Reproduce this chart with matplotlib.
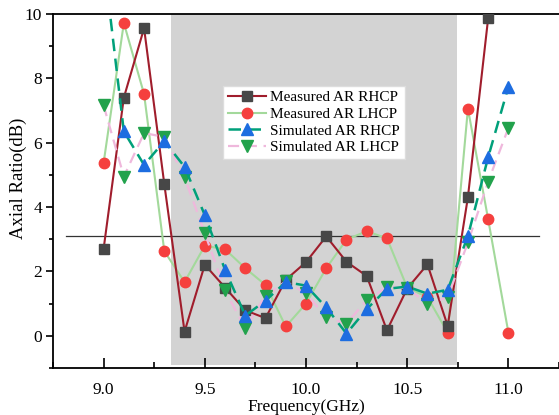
import matplotlib
matplotlib.use("Agg")
import matplotlib.pyplot as plt
from matplotlib.ticker import MultipleLocator

plt.rcParams["font.family"] = ["Liberation Serif", "DejaVu Serif"]
plt.rcParams["mathtext.fontset"] = "stix"

# Frequency sweep (GHz)
freq = [9.0, 9.1, 9.2, 9.3, 9.4, 9.5, 9.6, 9.7, 9.8, 9.9, 10.0,
        10.1, 10.2, 10.3, 10.4, 10.5, 10.6, 10.7, 10.8, 10.9, 11.0]

# Axial ratio (dB)
meas_rhcp = [2.7, 7.4, 9.56, 4.71, 0.13, 2.21, 1.5, 0.79, 0.55, 1.74, 2.29,
             3.09, 2.3, 1.86, 0.17, 1.47, 2.22, 0.31, 4.31, 9.87]
meas_lhcp = [5.37, 9.72, 7.51, 2.63, 1.67, 2.8, 2.69, 2.1, 1.58, 0.29, 1.0,
             2.1, 2.99, 3.25, 3.03, 1.5, 1.2, 0.1, 7.06, 3.62, 0.1]
sim_rhcp = [11.7, 6.35, 5.31, 6.05, 5.25, 3.75, 2.05, 0.63, 1.09, 1.67, 1.56,
            0.88, 0.07, 0.83, 1.46, 1.53, 1.31, 1.43, 3.1, 5.55, 7.74]
sim_lhcp = [7.16, 4.95, 6.3, 6.18, 4.92, 3.19, 1.41, 0.23, 1.25, 1.69, 1.32,
            0.57, 0.38, 1.11, 1.51, 1.49, 0.99, 1.2, 2.9, 4.79, 6.46]

labels = ["Measured AR RHCP", "Measured AR LHCP",
          "Simulated AR RHCP", "Simulated AR LHCP"]

band = (9.333, 10.745)   # shaded operating band
ar_limit = 3.1           # reference level
limit_span = (8.815, 11.15)

fig = plt.figure(figsize=(5.59, 4.15), dpi=100)
ax = fig.add_axes([53 / 559, 1 - 368 / 415, 506 / 559, 354 / 415])

ax.axvspan(band[0], band[1], ymin=0.008, ymax=1.0, color="#d3d3d3", lw=0, zorder=0)
ax.plot(limit_span, [ar_limit, ar_limit], color="#333333", lw=0.9, zorder=1)

h2, = ax.plot(freq[:len(meas_lhcp)], meas_lhcp, color="#a3d99b", lw=1.5,
              marker="o", ms=7.5, mfc="#f5403e", mec="#f5403e", zorder=2)
h1, = ax.plot(freq[:len(meas_rhcp)], meas_rhcp, color="#a01d2c", lw=1.5,
              marker="s", ms=6.5, mfc="#474747", mec="#474747", zorder=3)
h4, = ax.plot(freq, sim_lhcp, color="#efb8dc", lw=1.6, ls=(0, (5, 3)),
              marker="v", ms=8, mfc="#22a24c", mec="#22a24c", zorder=4)
h3, = ax.plot(freq, sim_rhcp, color="#00a07a", lw=1.8, ls=(0, (5, 3)),
              marker="^", ms=8, mfc="#1d6de0", mec="#1d6de0", zorder=5)

ax.set_xlim(8.75, 11.25)
ax.set_ylim(-1, 10)

ax.xaxis.set_major_locator(MultipleLocator(0.5))
ax.xaxis.set_minor_locator(MultipleLocator(0.25))
ax.yaxis.set_major_locator(MultipleLocator(2))
ax.yaxis.set_minor_locator(MultipleLocator(1))
ax.xaxis.set_major_formatter(plt.FuncFormatter(lambda v, p: f"{v:.1f}"))

ax.tick_params(axis="x", which="major", direction="in", length=7, width=1.2,
               labelsize=12.5, pad=10)
ax.tick_params(axis="x", which="minor", direction="in", length=4, width=1.2)
ax.tick_params(axis="y", which="major", direction="out", length=5, width=1.2,
               labelsize=12.5, pad=3)
ax.tick_params(axis="y", which="minor", direction="out", length=3, width=1.2)

for side in ("left", "bottom", "top"):
    ax.spines[side].set_linewidth(1.3)
ax.spines["right"].set_visible(False)

ax.set_xlabel("Frequency(GHz)", fontsize=12.5, labelpad=1)
ax.set_ylabel("Axial Ratio(dB)", fontsize=13.5)
ax.yaxis.set_label_coords(-0.068, 0.537)
ax.yaxis.label.set_va("center")

leg = ax.legend([h1, h2, h3, h4], labels, loc="upper left",
                bbox_to_anchor=(0.336, 0.797), fontsize=11, frameon=True,
                fancybox=False, edgecolor="#dddddd", framealpha=1,
                handlelength=2.5, handletextpad=0.3, labelspacing=0.2,
                borderpad=0.3, borderaxespad=0)
leg.get_frame().set_linewidth(1.0)

fig.savefig("out.png", dpi=100)
